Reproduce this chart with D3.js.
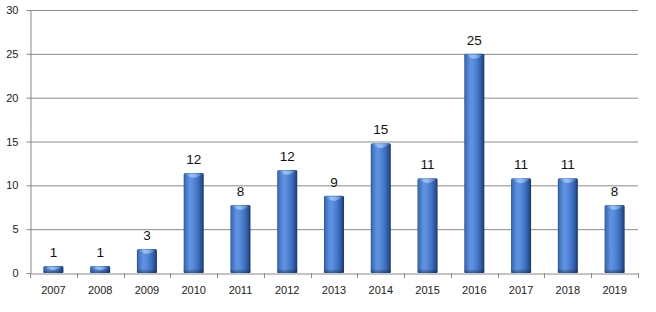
<!DOCTYPE html>
<html><head><meta charset="utf-8">
<script src="https://cdn.jsdelivr.net/npm/d3@7/dist/d3.min.js"></script>
<style>html,body{margin:0;padding:0;background:#fff;}svg{display:block;}</style>
</head><body>
<svg id="c" width="656" height="312"></svg>
<script>
const categories = ["2007","2008","2009","2010","2011","2012","2013","2014","2015","2016","2017","2018","2019"];
const values = [0.8,0.8,2.75,11.4,7.75,11.75,8.8,14.8,10.8,25,10.8,10.8,7.75];
const labels = ["1","1","3","12","8","12","9","15","11","25","11","11","8"];
const yTicks = [0,5,10,15,20,25,30];

const svg = d3.select("#c");
const m = {left:30, right:18, top:10, bottom:39};
const W = 656, H = 312;
const x = d3.scaleBand().domain(categories).range([m.left, W-m.right]).paddingInner(0.572).paddingOuter(0.286);
const y = d3.scaleLinear().domain([0,30]).range([H-m.bottom, m.top]);
const font = "'Liberation Sans', Arial, sans-serif";

const defs = svg.append("defs");
const g1 = defs.append("linearGradient").attr("id","cyl").attr("x1",0).attr("x2",1).attr("y1",0).attr("y2",0);
[[0,"#2a4f8e"],[0.07,"#3e6fbd"],[0.3,"#5f93e2"],[0.45,"#5a8ddc"],[0.7,"#3f72c3"],[0.88,"#2b559c"],[1,"#1a3364"]]
  .forEach(([o,c])=>g1.append("stop").attr("offset",o).attr("stop-color",c));
const g2 = defs.append("linearGradient").attr("id","cap").attr("x1",0).attr("x2",1).attr("y1",0).attr("y2",0);
[[0,"#4a7cc8"],[0.35,"#9cc4f6"],[0.6,"#8ab6ef"],[1,"#3d6cb6"]]
  .forEach(([o,c])=>g2.append("stop").attr("offset",o).attr("stop-color",c));
const g3 = defs.append("linearGradient").attr("id","bot").attr("x1",0).attr("x2",0).attr("y1",0).attr("y2",1);
[[0,"#000",0],[1,"#0b1f45",0.45]].forEach(([o,c,a])=>g3.append("stop").attr("offset",o).attr("stop-color",c).attr("stop-opacity",a));

// gridlines
svg.append("g").selectAll("line").data(yTicks.filter(d=>d>0)).join("line")
  .attr("x1",m.left).attr("x2",W-m.right).attr("y1",d=>y(d)+0.5).attr("y2",d=>y(d)+0.5)
  .attr("stroke","#8a8a8a").attr("stroke-width",1);

// y axis
const ya = svg.append("g").attr("transform",`translate(${m.left+0.5},0)`)
  .call(d3.axisLeft(y).tickValues(yTicks).tickSize(4).tickPadding(8).tickSizeOuter(0));
ya.select(".domain").attr("stroke","#8a8a8a");
ya.selectAll(".tick line").attr("stroke","#8a8a8a");
ya.selectAll("text").attr("font-family",font).attr("font-size",11).attr("fill","#222");

// x axis
const xa = svg.append("g").attr("transform",`translate(0,${y(0)+0.5})`)
  .call(d3.axisBottom(x).tickSize(0).tickPadding(13).tickSizeOuter(0));
xa.select(".domain").attr("stroke","#8a8a8a");
xa.selectAll("text").attr("font-family",font).attr("font-size",11).attr("fill","#222");
const step = x.step();
svg.append("g").selectAll("line").data(d3.range(categories.length+1)).join("line")
  .attr("x1",i=>Math.round(m.left+i*step)+0.5).attr("x2",i=>Math.round(m.left+i*step)+0.5)
  .attr("y1",y(0)).attr("y2",y(0)+5).attr("stroke","#8a8a8a");

// bars
const bars = svg.append("g").selectAll("g").data(categories).join("g");
bars.append("rect")
  .attr("x",d=>x(d)).attr("width",x.bandwidth())
  .attr("y",(d,i)=>y(values[i])).attr("height",(d,i)=>y(0)-y(values[i]))
  .attr("fill","url(#cyl)").attr("rx",1.5);
bars.append("rect")
  .attr("x",d=>x(d)).attr("width",x.bandwidth())
  .attr("y",(d,i)=>Math.max(y(values[i]), y(0)-4)).attr("height",(d,i)=>Math.min(4, y(0)-y(values[i])))
  .attr("fill","url(#bot)");
bars.append("path")
  .attr("d",(d,i)=>{
    const x0=x(d)+1.5, x1=x(d)+x.bandwidth()-1.5, t=y(values[i])+0.8;
    const h=Math.min(4, (y(0)-y(values[i]))/2);
    return `M${x0},${t} L${x1},${t} Q${(x0+x1)/2},${t+h*2} ${x0},${t} Z`;
  })
  .attr("fill","url(#cap)").attr("opacity",0.95);

// value labels
svg.append("g").selectAll("text").data(categories).join("text")
  .attr("x",d=>x(d)+x.bandwidth()/2).attr("y",(d,i)=>y(values[i])-9)
  .attr("text-anchor","middle").attr("font-family",font).attr("font-size",13.5).attr("fill","#111")
  .text((d,i)=>labels[i]);
</script>
</body></html>
